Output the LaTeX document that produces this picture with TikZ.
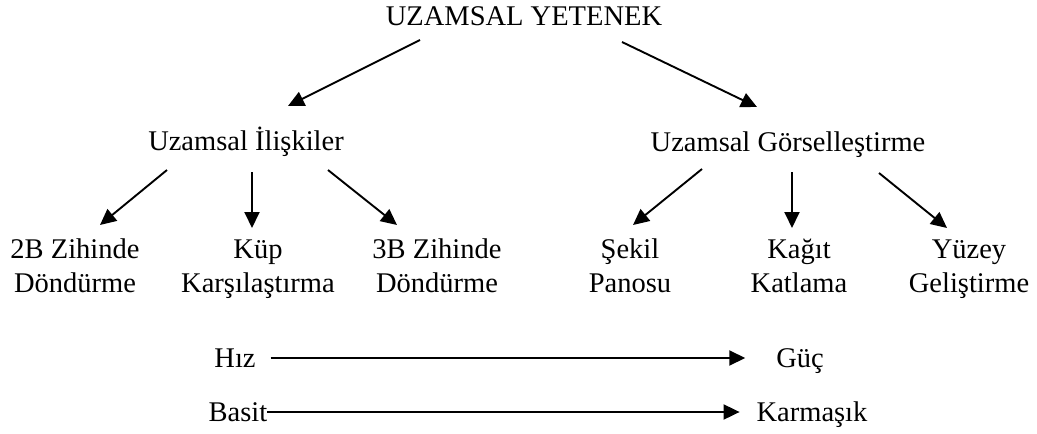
\documentclass[tikz,border=0pt]{standalone}
\usepackage{fontspec}
\setmainfont{Liberation Serif}
\usetikzlibrary{arrows.meta,calc}
\begin{document}
\begin{tikzpicture}[x=1pt,y=-1pt,
  lbl/.style={inner sep=0pt,outer sep=0pt,font=\fontsize{28.5}{34}\selectfont,align=center},
  arr/.style={line width=1.9pt,-{Triangle[length=16pt,width=15pt]}}]
\useasboundingbox (0,0) rectangle (1037,434);
\node[lbl,anchor=base] (top) at (524,25) {UZAMSAL YETENEK};
\node[lbl,anchor=base] (rel) at (246,150) {Uzamsal İlişkiler};
\node[lbl,anchor=base] (vis) at (788,151) {Uzamsal Görselleştirme};
\node[lbl,anchor=base] (n1) at (75,292) {2B Zihinde\\Döndürme};
\node[lbl,anchor=base] (n2) at (258,292) {Küp\\Karşılaştırma};
\node[lbl,anchor=base] (n3) at (437,292) {3B Zihinde\\Döndürme};
\node[lbl,anchor=base] (n4) at (630,292) {Şekil\\Panosu};
\node[lbl,anchor=base] (n5) at (799,292) {Kağıt\\Katlama};
\node[lbl,anchor=base] (n6) at (969,292) {Yüzey\\Geliştirme};
\node[lbl,anchor=base] (hiz) at (235,367) {Hız};
\node[lbl,anchor=base] (guc) at (800,367) {Güç};
\node[lbl,anchor=base] (bas) at (238,421) {Basit};
\node[lbl,anchor=base] (kar) at (812,421) {Karmaşık};
\draw[arr] ($(top.base)+(-104,15)$) -- ($(rel.base)+(42,-44)$);
\draw[arr] ($(top.base)+(98,17)$) -- ($(vis.base)+(-31,-44)$);
\draw[arr] ($(rel.base)+(-79,20)$) -- ($(n1.base)+(25,-67)$);
\draw[arr] ($(rel.base)+(6,22)$) -- ($(n2.base)+(-6,-64)$);
\draw[arr] ($(rel.base)+(82,20)$) -- ($(n3.base)+(-40,-67)$);
\draw[arr] ($(vis.base)+(-86,18)$) -- ($(n4.base)+(3,-67)$);
\draw[arr] ($(vis.base)+(4,21)$) -- ($(n5.base)+(-7,-64)$);
\draw[arr] ($(vis.base)+(91,22)$) -- ($(n6.base)+(-22,-64)$);
\draw[arr] ($(hiz.base east)+(15,-9)$) -- ($(guc.base west)+(-31,-9)$);
\draw[arr] ($(bas.base east)+(0,-9)$) -- ($(kar.base west)+(-17,-9)$);
\end{tikzpicture}
\end{document}
